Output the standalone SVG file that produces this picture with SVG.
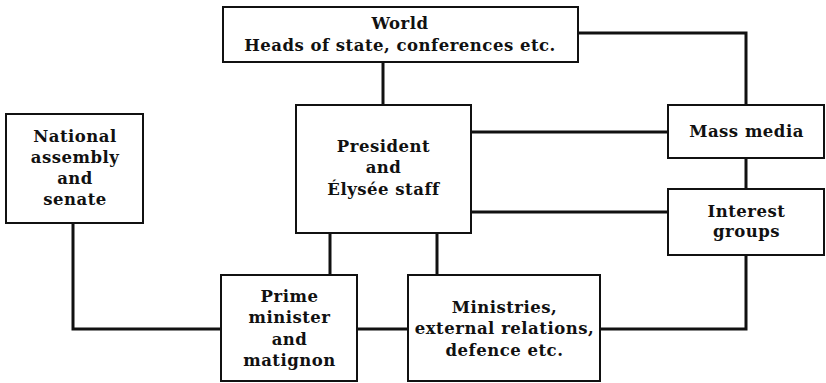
<svg xmlns="http://www.w3.org/2000/svg" width="826" height="383" viewBox="0 0 826 383">
<style>
.box{fill:#fff;stroke:#111;stroke-width:2}
.t{font-family:"DejaVu Serif","Liberation Serif",serif;font-size:16.5px;font-weight:bold;letter-spacing:0.5px;fill:#111;text-anchor:middle}
.c{fill:none;stroke:#111;stroke-width:3}
</style>
<rect width="826" height="383" fill="#fff"/>
<g id="connectors">
<path class="c" d="M578 33H746V105"/>
<path class="c" d="M383 62V105"/>
<path class="c" d="M471 132H668"/>
<path class="c" d="M471 212H668"/>
<path class="c" d="M746 158V189"/>
<path class="c" d="M746 255V329H600"/>
<path class="c" d="M330 233V275"/>
<path class="c" d="M437 233V275"/>
<path class="c" d="M357 329H408"/>
<path class="c" d="M73 223V329H221"/>
</g>
<g id="world">
<rect class="box" x="223" y="7" width="355" height="55"/>
<text class="t" x="400" y="29">World</text>
<text class="t" x="400" y="51">Heads of state, conferences etc.</text>
</g>
<g id="national">
<rect class="box" x="6" y="114" width="137" height="109"/>
<text class="t" x="75" y="142">National</text>
<text class="t" x="75" y="163">assembly</text>
<text class="t" x="75" y="184">and</text>
<text class="t" x="75" y="205">senate</text>
</g>
<g id="president">
<rect class="box" x="296" y="105" width="175" height="128"/>
<text class="t" x="383.5" y="152">President</text>
<text class="t" x="383.5" y="173">and</text>
<text class="t" x="383.5" y="195">Élysée staff</text>
</g>
<g id="massmedia">
<rect class="box" x="668" y="105" width="156" height="53"/>
<text class="t" x="746.5" y="137">Mass media</text>
</g>
<g id="interest">
<rect class="box" x="668" y="189" width="156" height="66"/>
<text class="t" x="746.5" y="217">Interest</text>
<text class="t" x="746.5" y="237">groups</text>
</g>
<g id="prime">
<rect class="box" x="221" y="275" width="136" height="106"/>
<text class="t" x="289.5" y="302">Prime</text>
<text class="t" x="289.5" y="323">minister</text>
<text class="t" x="289.5" y="345">and</text>
<text class="t" x="289.5" y="366">matignon</text>
</g>
<g id="ministries">
<rect class="box" x="408" y="275" width="192" height="106"/>
<text class="t" x="504.5" y="313">Ministries,</text>
<text class="t" x="504.5" y="334">external relations,</text>
<text class="t" x="504.5" y="356">defence etc.</text>
</g>
</svg>
